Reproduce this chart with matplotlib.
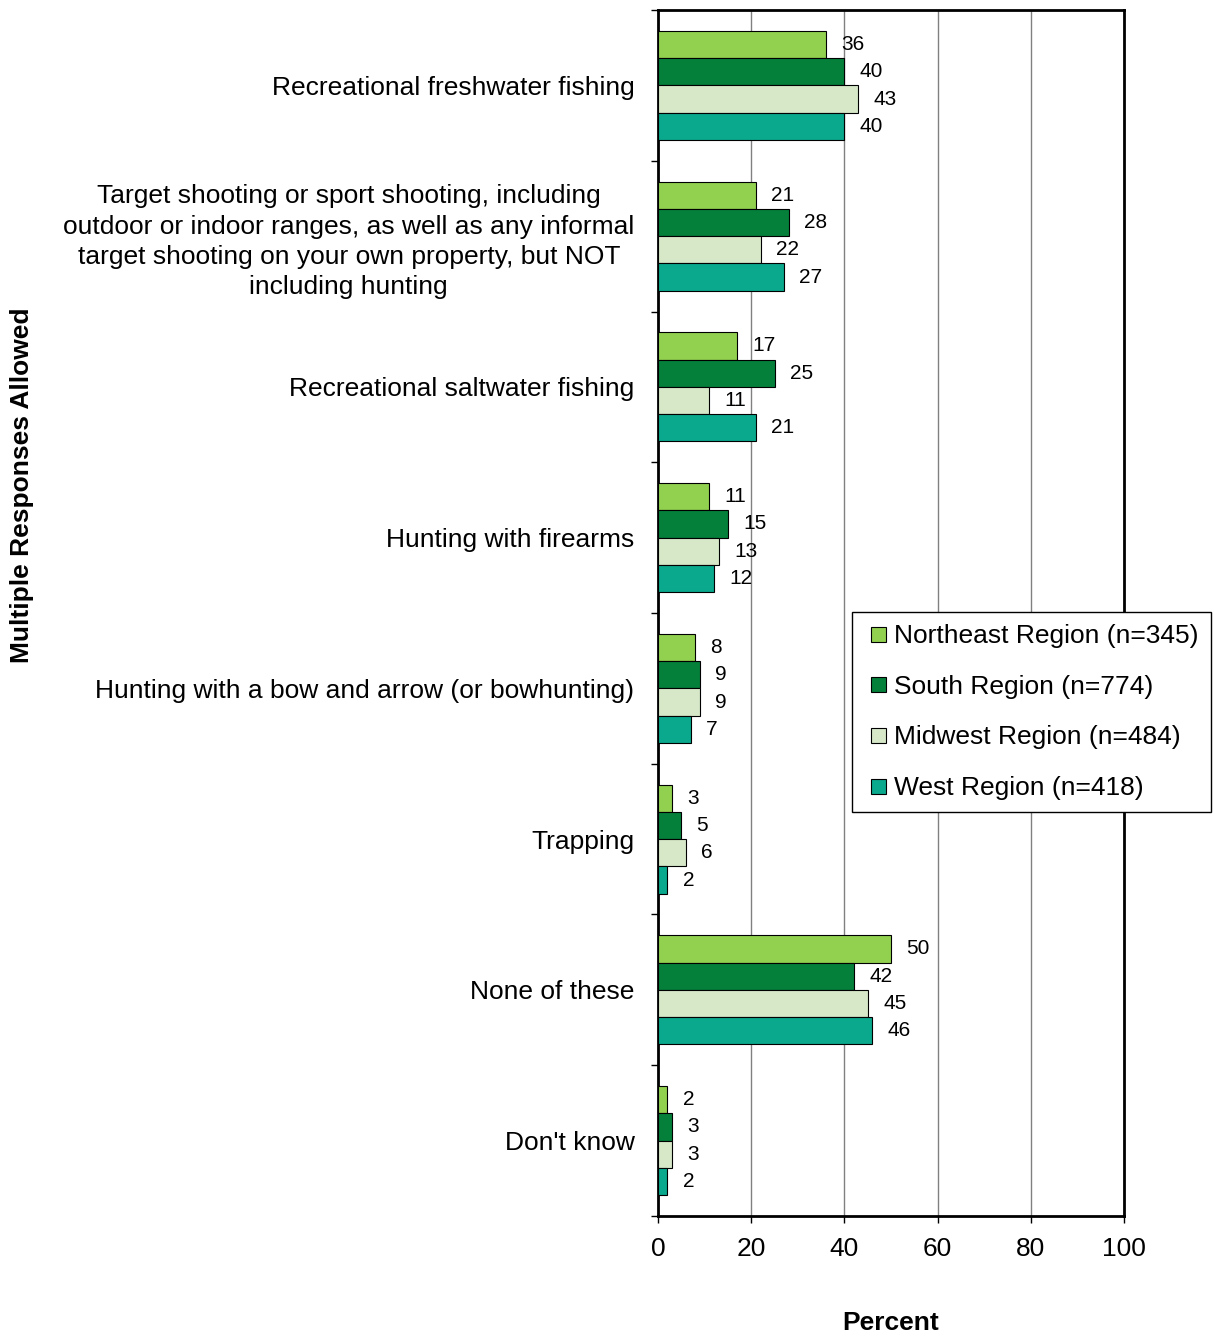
import matplotlib.pyplot as plt
from matplotlib.lines import Line2D
import numpy as np

plt.rcParams['font.family'] = ['Liberation Sans', 'DejaVu Sans']

categories = [
    'Recreational freshwater fishing',
    'Target shooting or sport shooting, including\noutdoor or indoor ranges, as well as any informal\ntarget shooting on your own property, but NOT\nincluding hunting',
    'Recreational saltwater fishing',
    'Hunting with firearms',
    'Hunting with a bow and arrow (or bowhunting)',
    'Trapping',
    'None of these',
    "Don't know",
]
series_names = [
    'Northeast Region (n=345)',
    'South Region (n=774)',
    'Midwest Region (n=484)',
    'West Region (n=418)',
]
northeast = [36, 21, 17, 11, 8, 3, 50, 2]
south = [40, 28, 25, 15, 9, 5, 42, 3]
midwest = [43, 22, 11, 13, 9, 6, 45, 3]
west = [40, 27, 21, 12, 7, 2, 46, 2]
colors = ['#92D050', '#04803B', '#D6E8C8', '#0AA88C']

fig = plt.figure(figsize=(12.15, 13.39), dpi=100)
ax = fig.add_axes([0.5416, 0.0919, 0.3835, 0.9006])

y = np.arange(len(categories))
h = 0.181
all_series = [northeast, south, midwest, west]
for i, (vals, name, col) in enumerate(zip(all_series, series_names, colors)):
    pos = y + (i - 1.5) * h
    bars = ax.barh(pos, vals, height=h, color=col, edgecolor='black', linewidth=0.8,
                   label=name, zorder=3)
    for b, v in zip(bars, vals):
        ax.annotate(str(v), (b.get_width(), b.get_y() + b.get_height() / 2),
                    xytext=(11, 0), textcoords='offset points',
                    ha='left', va='center', fontsize=15, zorder=4)

ax.set_xlim(0, 100)
ax.set_ylim(len(categories) - 0.5, -0.5)
ax.set_xticks(range(0, 101, 20))
ax.tick_params(axis='x', labelsize=19, direction='out', length=5, width=1, pad=10)

ax.set_yticks(y)
ax.set_yticklabels(categories, fontsize=19, linespacing=1.33)
for lbl in ax.get_yticklabels():
    lbl.set_multialignment('center')
ax.set_yticks(np.arange(len(categories) + 1) - 0.5, minor=True)
ax.tick_params(axis='y', which='major', length=0, pad=17)
ax.tick_params(axis='y', which='minor', length=5, width=1, direction='out')

ax.grid(axis='x', color='#808080', linewidth=1, zorder=0)
for s in ax.spines.values():
    s.set_linewidth(2)
    s.set_color('black')

ax.set_xlabel('Percent', fontsize=19, fontweight='bold')
ax.xaxis.set_label_coords(0.5, -0.079)
fig.text(22 / 1215, 1 - 485 / 1339, 'Multiple Responses Allowed', rotation=90,
         fontsize=19, fontweight='bold', ha='center', va='center')

# small square legend keys like the original
handles = [Line2D([], [], linestyle='none', marker='s', markersize=10.8,
                  markerfacecolor=c, markeredgecolor='black', markeredgewidth=0.8)
           for c in colors]
leg = ax.legend(handles, series_names, loc='upper left',
                bbox_to_anchor=(852 / 1215, 1 - 612 / 1339),
                bbox_transform=fig.transFigure, fontsize=19, frameon=True,
                fancybox=False, framealpha=1, edgecolor='black',
                handlelength=1.1, handletextpad=0.05,
                labelspacing=1.015, borderpad=0.45, borderaxespad=0)
leg.get_frame().set_linewidth(1)

fig.savefig('out.png', dpi=100)
